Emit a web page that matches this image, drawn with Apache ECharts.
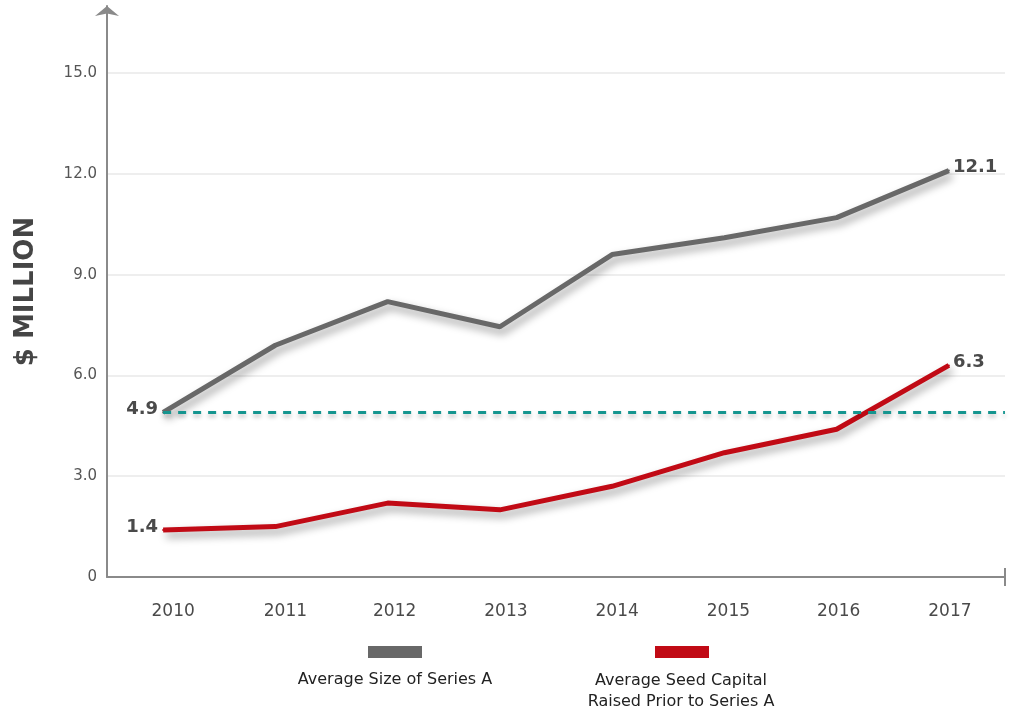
<!DOCTYPE html>
<html>
<head>
<meta charset="utf-8">
<script src="https://cdn.jsdelivr.net/npm/echarts@6/dist/echarts.min.js"></script>
<style>
  html, body { margin: 0; padding: 0; background: #ffffff; }
  #chart { width: 1010px; height: 713px; }
</style>
</head>
<body>
<div id="chart"></div>
<script>
// Years on the horizontal axis
const years = ['2010', '2011', '2012', '2013', '2014', '2015', '2016', '2017'];

// Average size of a Series A round, $ million
const seriesASize = [4.9, 6.9, 8.2, 7.45, 9.6, 10.1, 10.7, 12.1];

// Average seed capital raised before the Series A, $ million
const seedCapital = [1.4, 1.5, 2.2, 2.0, 2.7, 3.7, 4.4, 6.3];

// Reference level: the 2010 Series A average
const baseline2010 = 4.9;

// Value-axis ticks
const yTicks = [0, 3, 6, 9, 12, 15];

const names = ['Average Size of Series A', 'Average Seed Capital\nRaised Prior to Series A'];

const FONT = '"DejaVu Sans", sans-serif';
const GRAY = '#686868';
const RED = '#c10a15';
const TEAL = '#15958f';

// Year labels are nudged right a little, more so toward the left end of the axis
const yearNudge = [20, 20, 14, 12, 10, 8, 4, 2];
const yearRich = {};
yearNudge.forEach((p, i) => {
  yearRich['y' + i] = { padding: [0, 0, 0, p], fontSize: 17, color: '#4a4a4a', fontFamily: FONT };
});

// Label only the first and last point of each line
function endLabels(values) {
  const last = values.length - 1;
  return values.map((v, i) => ({
    value: v,
    label: {
      show: i === 0 || i === last,
      position: i === 0 ? 'left' : 'right',
      distance: i === 0 ? 4 : 3,
      offset: [0, -3]
    }
  }));
}

const shadow = {
  shadowColor: 'rgba(0,0,0,0.4)',
  shadowBlur: 8,
  shadowOffsetX: 3,
  shadowOffsetY: 5
};

const labelStyle = {
  show: false,
  fontFamily: FONT,
  fontSize: 18,
  fontWeight: 'bold',
  color: '#4a4a4a',
  formatter: p => p.value.toFixed(1)
};

const chart = echarts.init(document.getElementById('chart'), null, { renderer: 'canvas' });

chart.setOption({
  animation: false,
  backgroundColor: '#ffffff',
  textStyle: { fontFamily: FONT },
  grid: { left: 107, right: 5, top: 6, bottom: 136, containLabel: false },
  xAxis: {
    type: 'category',
    data: years,
    boundaryGap: true,
    axisLine: {
      show: true,
      symbol: ['none', 'rect'],
      symbolSize: [18, 2],
      lineStyle: { color: '#8a8a8a', width: 2 }
    },
    axisTick: { show: false },
    axisLabel: {
      interval: 0,
      hideOverlap: false,
      margin: 26,
      fontSize: 17,
      color: '#4a4a4a',
      fontFamily: FONT,
      formatter: (v, i) => '{y' + i + '|' + v + '}',
      rich: yearRich
    },
    splitLine: { show: false }
  },
  yAxis: {
    type: 'value',
    min: 0,
    max: 17,
    interval: 3,
    name: '$ MILLION',
    nameLocation: 'middle',
    nameGap: 68,
    nameTextStyle: { fontFamily: FONT, fontSize: 26, fontWeight: 'bold', color: '#454545' },
    axisLine: {
      show: true,
      symbol: ['none', 'arrow'],
      symbolSize: [18, 10],
      lineStyle: { color: '#8a8a8a', width: 2 }
    },
    axisTick: { show: false },
    axisLabel: {
      margin: 10,
      fontSize: 15,
      color: '#555555',
      fontFamily: FONT,
      formatter: v => (yTicks.indexOf(v) < 0 ? '' : (v === 0 ? '0' : v.toFixed(1)))
    },
    splitLine: {
      show: true,
      lineStyle: {
        width: 2,
        // the last line sits at the arrow end of the axis and stays hidden
        color: yTicks.map(() => '#eeeeee').concat(['rgba(0,0,0,0)'])
      }
    }
  },
  legend: [
    {
      data: [names[0]],
      left: 368, top: 646, padding: 0,
      icon: 'rect', itemWidth: 54, itemHeight: 12,
      formatter: () => '', selectedMode: false
    },
    {
      data: [names[1]],
      left: 655, top: 646, padding: 0,
      icon: 'rect', itemWidth: 54, itemHeight: 12,
      formatter: () => '', selectedMode: false
    }
  ],
  graphic: [
    {
      type: 'text',
      x: 395, y: 672,
      style: { text: names[0], fill: '#222', font: '16px ' + FONT, textAlign: 'center' }
    },
    {
      type: 'text',
      x: 681, y: 670,
      style: { text: names[1], fill: '#222', font: '16px ' + FONT, textAlign: 'center', lineHeight: 21 }
    }
  ],
  series: [
    {
      name: names[0],
      type: 'line',
      data: endLabels(seriesASize),
      symbol: 'circle',
      symbolSize: 2,
      showSymbol: true,
      color: GRAY,
      itemStyle: { color: GRAY },
      lineStyle: Object.assign({ color: GRAY, width: 5 }, shadow),
      label: labelStyle,
      z: 3,
      markLine: {
        silent: true,
        symbol: ['none', 'none'],
        label: { show: false },
        lineStyle: Object.assign({ color: TEAL, width: 3, type: [8, 7], opacity: 1 },
          { shadowColor: 'rgba(0,0,0,0.25)', shadowBlur: 4, shadowOffsetY: 3 }),
        data: [[{ xAxis: 0, yAxis: baseline2010 }, { x: '99.5%', yAxis: baseline2010 }]]
      }
    },
    {
      name: names[1],
      type: 'line',
      data: endLabels(seedCapital),
      symbol: 'circle',
      symbolSize: 2,
      showSymbol: true,
      color: RED,
      itemStyle: { color: RED },
      lineStyle: Object.assign({ color: RED, width: 5 }, shadow),
      label: labelStyle,
      z: 4
    }
  ]
});
</script>
</body>
</html>
